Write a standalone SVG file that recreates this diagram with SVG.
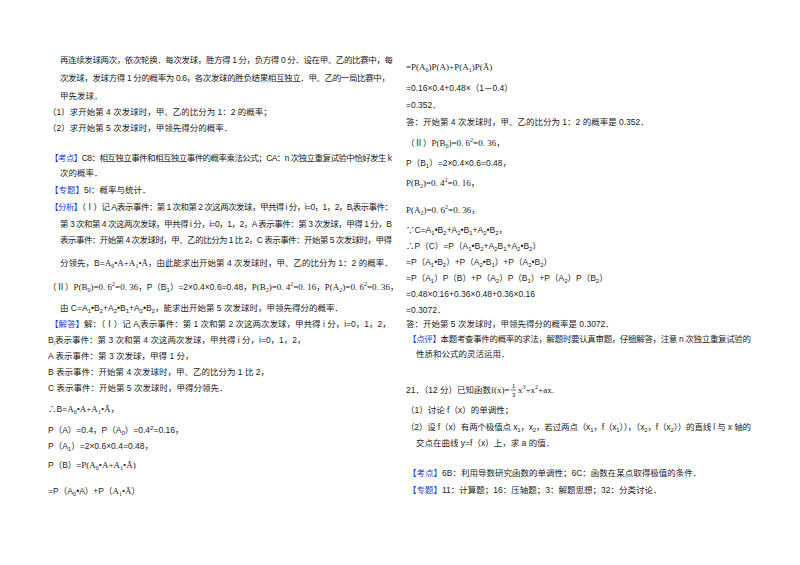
<svg xmlns="http://www.w3.org/2000/svg" width="800" height="565" viewBox="0 0 800 565">
<style>
text{font-family:"Liberation Sans","Noto Sans CJK SC",sans-serif;font-size:8.5px;fill:#222}
.b{fill:#1a3bd6}
.s{font-size:6px}
.m{font-family:"Liberation Serif","Noto Sans CJK SC",serif;font-size:9px}
</style>
<rect width="800" height="565" fill="#fff"/>
<g id="left">
<text x="60" y="63" textLength="333" lengthAdjust="spacing">再连续发球两次，依次轮换．每次发球，胜方得 1 分，负方得 0 分．设在甲、乙的比赛中，每</text>
<text x="60" y="81" textLength="330" lengthAdjust="spacing">次发球，发球方得 1 分的概率为 0.6，各次发球的胜负结果相互独立．甲、乙的一局比赛中，</text>
<text x="60" y="99">甲先发球．</text>
<text x="48" y="115">（1）求开始第 4 次发球时，甲、乙的比分为 1：2 的概率；</text>
<text x="48" y="131">（2）求开始第 5 次发球时，甲领先得分的概率．</text>
<text x="50" y="161" textLength="342" lengthAdjust="spacing"><tspan class="b">【考点】</tspan>C8：相互独立事件和相互独立事件的概率乘法公式；CA：n 次独立重复试验中恰好发生 k</text>
<text x="60" y="176">次的概率．</text>
<text x="50" y="193"><tspan class="b">【专题】</tspan>5I：概率与统计．</text>
<text x="50" y="210" textLength="343" lengthAdjust="spacing"><tspan class="b">【分析】</tspan>（Ⅰ）记 A<tspan class="s" dy="2">i</tspan><tspan dy="-2">表示事件：第 1 次和第 2 次这两次发球，甲共得 i 分，i=0，1，2，B</tspan><tspan class="s" dy="2">i</tspan><tspan dy="-2">表示事件：</tspan></text>
<text x="60" y="227" textLength="332" lengthAdjust="spacing">第 3 次和第 4 次这两次发球，甲共得 i 分，i=0，1，2，A 表示事件：第 3 次发球，甲得 1 分，B</text>
<text x="60" y="243" textLength="332" lengthAdjust="spacing">表示事件：开始第 4 次发球时，甲、乙的比分为 1 比 2，C 表示事件：开始第 5 次发球时，甲得</text>
<text x="60" y="266">分领先，B=<tspan class="m">A<tspan class="s" dy="2">0</tspan><tspan dy="-2">•A+A</tspan><tspan class="s" dy="2">1</tspan><tspan dy="-2">•Ā</tspan></tspan>，由此能求出开始第 4 次发球时，甲、乙的比分为 1：2 的概率．</text>
<text x="48" y="290">（Ⅱ）<tspan class="m">P(B<tspan class="s" dy="2">0</tspan><tspan dy="-2">)=0. 6</tspan><tspan class="s" dy="-4">2</tspan><tspan dy="4">=0. 36</tspan></tspan>，P（B<tspan class="s" dy="2">1</tspan><tspan dy="-2">）=2×0.4×0.6=0.48，</tspan><tspan class="m">P(B<tspan class="s" dy="2">2</tspan><tspan dy="-2">)=0. 4</tspan><tspan class="s" dy="-4">2</tspan><tspan dy="4">=0. 16</tspan></tspan>，<tspan class="m">P(A<tspan class="s" dy="2">2</tspan><tspan dy="-2">)=0. 6</tspan><tspan class="s" dy="-4">2</tspan><tspan dy="4">=0. 36</tspan></tspan>，</text>
<text x="60" y="311">由 C=A<tspan class="s" dy="2">1</tspan><tspan dy="-2">•B</tspan><tspan class="s" dy="2">2</tspan><tspan dy="-2">+A</tspan><tspan class="s" dy="2">2</tspan><tspan dy="-2">•B</tspan><tspan class="s" dy="2">1</tspan><tspan dy="-2">+A</tspan><tspan class="s" dy="2">2</tspan><tspan dy="-2">•B</tspan><tspan class="s" dy="2">2</tspan><tspan dy="-2">，能求出开始第 5 次发球时，甲领先得分的概率．</tspan></text>
<text x="50" y="327"><tspan class="b">【解答】</tspan>解：（Ⅰ）记 A<tspan class="s" dy="2">i</tspan><tspan dy="-2">表示事件：第 1 次和第 2 次这两次发球，甲共得 i 分，i=0，1，2，</tspan></text>
<text x="48" y="343">B<tspan class="s" dy="2">i</tspan><tspan dy="-2">表示事件：第 3 次和第 4 次这两次发球，甲共得 i 分，i=0，1，2，</tspan></text>
<text x="48" y="359">A 表示事件：第 3 次发球，甲得 1 分，</text>
<text x="48" y="375">B 表示事件：开始第 4 次发球时，甲、乙的比分为 1 比 2，</text>
<text x="48" y="391">C 表示事件：开始第 5 次发球时，甲得分领先．</text>
<text x="48" y="412">∴B=<tspan class="m">A<tspan class="s" dy="2">0</tspan><tspan dy="-2">•A+A</tspan><tspan class="s" dy="2">1</tspan><tspan dy="-2">•Ā</tspan></tspan>，</text>
<text x="48" y="433">P（A）=0.4，P（A<tspan class="s" dy="2">0</tspan><tspan dy="-2">）=0.4</tspan><tspan class="s" dy="-3">2</tspan><tspan dy="3">=0.16，</tspan></text>
<text x="48" y="449">P（A<tspan class="s" dy="2">1</tspan><tspan dy="-2">）=2×0.6×0.4=0.48，</tspan></text>
<text x="48" y="468">P（B）=<tspan class="m">P(A<tspan class="s" dy="2">0</tspan><tspan dy="-2">•A+A</tspan><tspan class="s" dy="2">1</tspan><tspan dy="-2">•Ā)</tspan></tspan></text>
<text x="48" y="494">=P（A<tspan class="s" dy="2">0</tspan><tspan dy="-2">•A）+P（</tspan><tspan class="m">A<tspan class="s" dy="2">1</tspan><tspan dy="-2">•Ā</tspan></tspan>）</text>
</g>
<g id="right">
<text x="406" y="70" class="m">=P(A<tspan class="s" dy="2">0</tspan><tspan dy="-2">)P(A)+P(A</tspan><tspan class="s" dy="2">1</tspan><tspan dy="-2">)P(Ā)</tspan></text>
<text x="406" y="91">=0.16×0.4+0.48×（1－0.4）</text>
<text x="406" y="108">=0.352．</text>
<text x="406" y="125">答：开始第 4 次发球时，甲、乙的比分为 1：2 的概率是 0.352．</text>
<text x="406" y="146">（Ⅱ）<tspan class="m">P(B<tspan class="s" dy="2">0</tspan><tspan dy="-2">)=0. 6</tspan><tspan class="s" dy="-4">2</tspan><tspan dy="4">=0. 36</tspan></tspan>，</text>
<text x="406" y="166">P（B<tspan class="s" dy="2">1</tspan><tspan dy="-2">）=2×0.4×0.6=0.48，</tspan></text>
<text x="406" y="186" class="m">P(B<tspan class="s" dy="2">2</tspan><tspan dy="-2">)=0. 4</tspan><tspan class="s" dy="-4">2</tspan><tspan dy="4">=0. 16，</tspan></text>
<text x="406" y="213" class="m">P(A<tspan class="s" dy="2">2</tspan><tspan dy="-2">)=0. 6</tspan><tspan class="s" dy="-4">2</tspan><tspan dy="4">=0. 36，</tspan></text>
<text x="406" y="233">∵C=A<tspan class="s" dy="2">1</tspan><tspan dy="-2">•B</tspan><tspan class="s" dy="2">2</tspan><tspan dy="-2">+A</tspan><tspan class="s" dy="2">2</tspan><tspan dy="-2">•B</tspan><tspan class="s" dy="2">1</tspan><tspan dy="-2">+A</tspan><tspan class="s" dy="2">2</tspan><tspan dy="-2">•B</tspan><tspan class="s" dy="2">2</tspan><tspan dy="-2">，</tspan></text>
<text x="406" y="249">∴P（C）=P（A<tspan class="s" dy="2">1</tspan><tspan dy="-2">•B</tspan><tspan class="s" dy="2">2</tspan><tspan dy="-2">+A</tspan><tspan class="s" dy="2">2</tspan><tspan dy="-2">B</tspan><tspan class="s" dy="2">1</tspan><tspan dy="-2">+A</tspan><tspan class="s" dy="2">2</tspan><tspan dy="-2">•B</tspan><tspan class="s" dy="2">2</tspan><tspan dy="-2">）</tspan></text>
<text x="406" y="265">=P（A<tspan class="s" dy="2">1</tspan><tspan dy="-2">•B</tspan><tspan class="s" dy="2">2</tspan><tspan dy="-2">）+P（A</tspan><tspan class="s" dy="2">2</tspan><tspan dy="-2">•B</tspan><tspan class="s" dy="2">1</tspan><tspan dy="-2">）+P（A</tspan><tspan class="s" dy="2">2</tspan><tspan dy="-2">•B</tspan><tspan class="s" dy="2">2</tspan><tspan dy="-2">）</tspan></text>
<text x="406" y="281">=P（A<tspan class="s" dy="2">1</tspan><tspan dy="-2">）P（B）+P（A</tspan><tspan class="s" dy="2">2</tspan><tspan dy="-2">）P（B</tspan><tspan class="s" dy="2">1</tspan><tspan dy="-2">）+P（A</tspan><tspan class="s" dy="2">2</tspan><tspan dy="-2">）P（B</tspan><tspan class="s" dy="2">2</tspan><tspan dy="-2">）</tspan></text>
<text x="406" y="297">=0.48×0.16+0.36×0.48+0.36×0.16</text>
<text x="406" y="313">=0.3072．</text>
<text x="406" y="327">答：开始第 5 次发球时，甲领先得分的概率是 0.3072．</text>
<text x="408" y="342" textLength="343" lengthAdjust="spacing"><tspan class="b">【点评】</tspan>本题考查事件的概率的求法，解题时要认真审题，仔细解答，注意 n 次独立重复试验的</text>
<text x="416" y="357">性质和公式的灵活运用．</text>
<text x="406" y="393">21．（12 分）已知函数<tspan class="m">f(x)=</tspan></text>
<text x="512" y="388" class="s">1</text>
<line x1="511" y1="390" x2="516" y2="390" stroke="#222" stroke-width="0.6"/>
<text x="512" y="397" class="s">3</text>
<text x="518" y="393" class="m">x<tspan class="s" dy="-4">3</tspan><tspan dy="4">+x</tspan><tspan class="s" dy="-4">2</tspan><tspan dy="4">+ax.</tspan></text>
<text x="406" y="413">（1）讨论 f（x）的单调性；</text>
<text x="406" y="430" textLength="345" lengthAdjust="spacing">（2）设 f（x）有两个极值点 x<tspan class="s" dy="2">1</tspan><tspan dy="-2">，x</tspan><tspan class="s" dy="2">2</tspan><tspan dy="-2">，若过两点（x</tspan><tspan class="s" dy="2">1</tspan><tspan dy="-2">，f（x</tspan><tspan class="s" dy="2">1</tspan><tspan dy="-2">）），（x</tspan><tspan class="s" dy="2">2</tspan><tspan dy="-2">，f（x</tspan><tspan class="s" dy="2">2</tspan><tspan dy="-2">））的直线 l 与 x 轴的</tspan></text>
<text x="416" y="446">交点在曲线 y=f（x）上，求 a 的值．</text>
<text x="408" y="476"><tspan class="b">【考点】</tspan>6B：利用导数研究函数的单调性；6C：函数在某点取得极值的条件．</text>
<text x="408" y="493"><tspan class="b">【专题】</tspan>11：计算题；16：压轴题；3：解题思想；32：分类讨论．</text>
</g>
</svg>
